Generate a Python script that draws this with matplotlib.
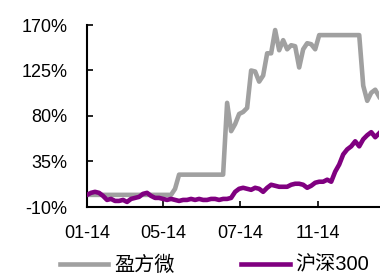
import matplotlib
matplotlib.use("Agg")
import matplotlib.pyplot as plt
import numpy as np

plt.rcParams['font.family'] = ['Liberation Sans', 'Noto Sans CJK SC', 'DejaVu Sans']

tick_labels = ["01-14", "05-14", "07-14", "11-14"]
tick_pos = [0, 19, 38.25, 57.75]

yingfangwei = [2, 2, 2, 2, 2, 2, 2, 2, 2, 2,
               2, 2, 2, 2, 2, 2, 2, 2, 2, 2,
               2, 2, 8, 22, 22, 22, 22, 22, 22, 22,
               22, 22, 22, 22, 22, 93, 65, 72, 82, 84,
               88, 125, 124, 114, 120, 142, 142, 165, 145, 155,
               146, 150, 149, 128, 146, 152, 151, 146, 160, 160,
               160, 160, 160, 160, 160, 160, 160, 160, 160, 110,
               95, 103, 106, 99]

hs300 = [2, 4, 5, 4, 1, -3, -2, -4, -4, -3,
         -5, -2, -1, 0, 3, 4, 1, -1, -1, -2,
         -3, -2, -3, -4, -3, -3, -2, -3, -2, -3,
         -3, -2, -2, -3, -2, -2, -1, 5, 8, 9,
         8, 7, 9, 8, 5, 9, 12, 11, 10, 10,
         10, 12, 13, 13, 12, 9, 11, 14, 15, 15,
         17, 15, 25, 32, 42, 47, 50, 55, 50, 57,
         61, 64, 59, 63]

yticks = [-10, 35, 80, 125, 170]

fig = plt.figure(figsize=(3.8, 2.75), dpi=100)
ax = fig.add_axes([87/380, 1-207/275, 1-87/380-0.002, (207-25)/275])

x1 = np.arange(len(yingfangwei))
x2 = np.arange(len(hs300))
ax.plot(x1, yingfangwei, color='#a0a0a0', lw=3.3, label='盈方微', zorder=2)
ax.plot(x2, hs300, color='#800080', lw=3.3, label='沪深300', zorder=3)

ax.set_xlim(0, len(yingfangwei) - 1)
ax.set_ylim(-10, 170)
ax.set_yticks(yticks)
ax.set_yticklabels([f"{v}%" for v in yticks])
ax.set_xticks(tick_pos)
ax.set_xticklabels(tick_labels)

for s in ['top', 'right']:
    ax.spines[s].set_visible(False)
for s in ['left', 'bottom']:
    ax.spines[s].set_linewidth(1.5)
    ax.spines[s].set_color('black')

ax.tick_params(axis='both', direction='in', length=4, width=1.2, labelsize=13, colors='black')
ax.tick_params(axis='y', pad=14)
ax.tick_params(axis='x', pad=13)

fig.legend(loc='center', bbox_to_anchor=(0.565, 1-265/275), ncol=2, frameon=False,
           fontsize=14.5, handlelength=2.4, handletextpad=0.3, columnspacing=3.3)

fig.savefig('out.png', dpi=100)
